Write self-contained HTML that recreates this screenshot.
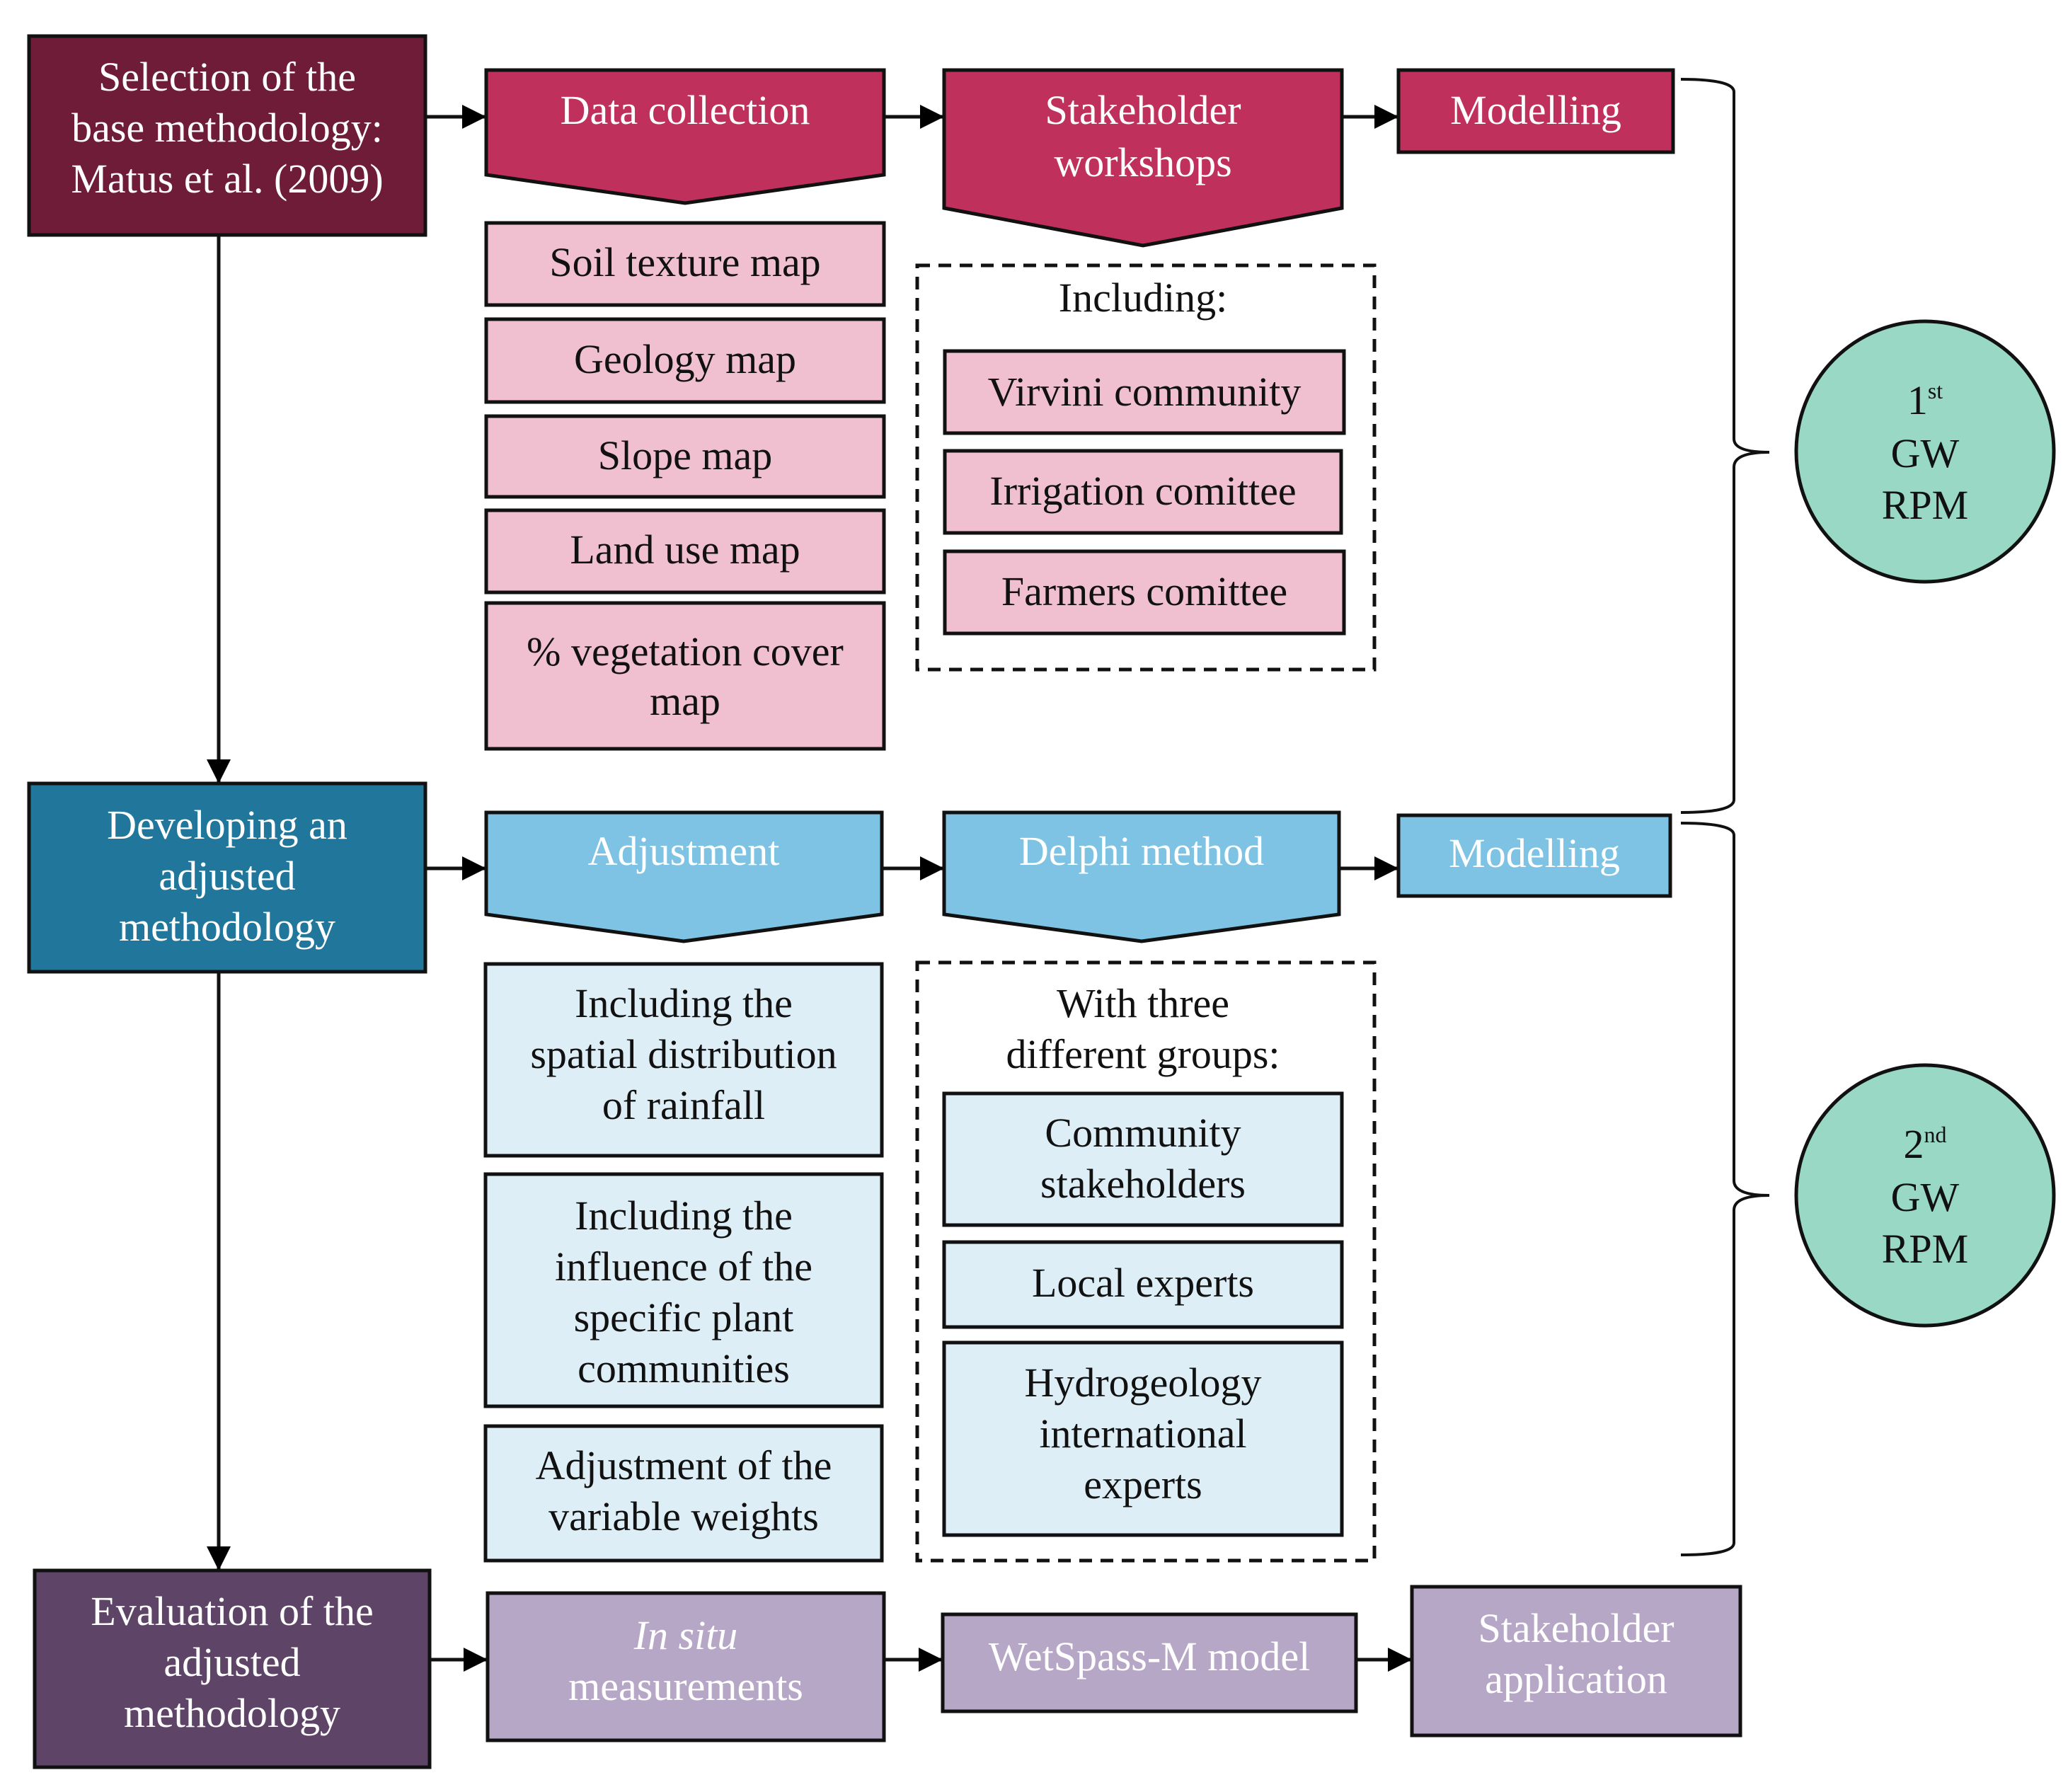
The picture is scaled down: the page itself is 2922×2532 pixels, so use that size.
<!DOCTYPE html>
<html><head><meta charset="utf-8"><style>
html,body{margin:0;padding:0;background:#fff;}
svg{display:block;}
text{font-family:"Liberation Serif",serif;font-size:58px;text-anchor:middle;}
.w{fill:#fff;} .k{fill:#111;}
</style></head><body>
<svg width="2922" height="2532" viewBox="0 0 2922 2532" xmlns="http://www.w3.org/2000/svg">
<defs>
<marker id="b" markerWidth="34" markerHeight="34" refX="32" refY="17" orient="auto" markerUnits="userSpaceOnUse" viewBox="0 0 34 34"><path d="M0,0 L34,17 L0,34z" fill="#000"/></marker></defs>
<g stroke="#111" stroke-width="5">
<line x1="309" y1="332" x2="309" y2="1105" marker-end="url(#b)"/>
<line x1="309" y1="1373" x2="309" y2="2217" marker-end="url(#b)"/>
<line x1="601" y1="165" x2="685" y2="165" marker-end="url(#b)"/>
<line x1="1249" y1="165" x2="1332" y2="165" marker-end="url(#b)"/>
<line x1="1896" y1="165" x2="1974" y2="165" marker-end="url(#b)"/>
<line x1="601" y1="1227" x2="685" y2="1227" marker-end="url(#b)"/>
<line x1="1246" y1="1227" x2="1332" y2="1227" marker-end="url(#b)"/>
<line x1="1892" y1="1227" x2="1974" y2="1227" marker-end="url(#b)"/>
<line x1="607" y1="2345" x2="687" y2="2345" marker-end="url(#b)"/>
<line x1="1249" y1="2345" x2="1330" y2="2345" marker-end="url(#b)"/>
<line x1="1916" y1="2345" x2="1993" y2="2345" marker-end="url(#b)"/>
<rect x="41" y="51" width="560" height="281" fill="#6e1c37"/>
<path d="M687,99 H1249 V247 L968,287 L687,247Z" fill="#c0305c"/>
<path d="M1334,99 H1896 V294 L1615,347 L1334,294Z" fill="#c0305c"/>
<rect x="1976" y="99" width="388" height="116" fill="#c0305c"/>
<g fill="#f0c0d0">
<rect x="687" y="315" width="562" height="116"/>
<rect x="687" y="451" width="562" height="117"/>
<rect x="687" y="588" width="562" height="114"/>
<rect x="687" y="721" width="562" height="116"/>
<rect x="687" y="852" width="562" height="206"/>
<rect x="1335" y="496" width="564" height="116"/>
<rect x="1335" y="637" width="560" height="116"/>
<rect x="1335" y="779" width="564" height="116"/>
</g>
<rect x="1296" y="375" width="646" height="571" fill="none" stroke-dasharray="18,12"/>
<rect x="41" y="1107" width="560" height="266" fill="#21769b"/>
<path d="M687,1148 H1246 V1292 L966,1330 L687,1292Z" fill="#7ec3e3"/>
<path d="M1334,1148 H1892 V1292 L1613,1330 L1334,1292Z" fill="#7ec3e3"/>
<rect x="1976" y="1152" width="384" height="114" fill="#7ec3e3"/>
<g fill="#ddeef7">
<rect x="686" y="1362" width="560" height="271"/>
<rect x="686" y="1659" width="560" height="328"/>
<rect x="686" y="2015" width="560" height="190"/>
<rect x="1334" y="1545" width="562" height="186"/>
<rect x="1334" y="1755" width="562" height="120"/>
<rect x="1334" y="1897" width="562" height="272"/>
</g>
<rect x="1296" y="1360" width="646" height="845" fill="none" stroke-dasharray="18,12"/>
<rect x="49" y="2219" width="558" height="278" fill="#5e4466"/>
<g fill="#b7a7c6">
<rect x="689" y="2251" width="560" height="208"/>
<rect x="1332" y="2281" width="584" height="137"/>
<rect x="1995" y="2242" width="464" height="210"/>
</g>
<path d="M2375,112 Q2450,112 2450,130 V620 Q2450,639 2500,639 Q2450,639 2450,660 V1130 Q2450,1148 2375,1148" fill="none" stroke-width="4"/>
<path d="M2375,1163 Q2450,1163 2450,1180 V1668 Q2450,1689 2500,1689 Q2450,1689 2450,1710 V2180 Q2450,2197 2375,2197" fill="none" stroke-width="4"/>
<ellipse cx="2720" cy="638" rx="182" ry="184" fill="#98d8c4"/>
<ellipse cx="2720" cy="1689" rx="182" ry="184" fill="#98d8c4"/>
</g>
<text class="w" x="321" y="128">Selection of the</text>
<text class="w" x="321" y="200">base methodology:</text>
<text class="w" x="321" y="272">Matus et al. (2009)</text>
<text class="w" x="968" y="175">Data collection</text>
<text class="w" x="1615" y="175">Stakeholder</text>
<text class="w" x="1615" y="249">workshops</text>
<text class="w" x="2170" y="175">Modelling</text>
<text class="k" x="968" y="390">Soil texture map</text>
<text class="k" x="968" y="527">Geology map</text>
<text class="k" x="968" y="663">Slope map</text>
<text class="k" x="968" y="796">Land use map</text>
<text class="k" x="968" y="940">% vegetation cover</text>
<text class="k" x="968" y="1010">map</text>
<text class="k" x="1615" y="440">Including:</text>
<text class="k" x="1617" y="573">Virvini community</text>
<text class="k" x="1615" y="713">Irrigation comittee</text>
<text class="k" x="1617" y="855">Farmers comittee</text>
<text class="w" x="321" y="1185">Developing an</text>
<text class="w" x="321" y="1257">adjusted</text>
<text class="w" x="321" y="1329">methodology</text>
<text class="w" x="966" y="1222">Adjustment</text>
<text class="w" x="1613" y="1222">Delphi method</text>
<text class="w" x="2168" y="1225">Modelling</text>
<text class="k" x="966" y="1437">Including the</text>
<text class="k" x="966" y="1509">spatial distribution</text>
<text class="k" x="966" y="1581">of rainfall</text>
<text class="k" x="966" y="1737">Including the</text>
<text class="k" x="966" y="1809">influence of the</text>
<text class="k" x="966" y="1881">specific plant</text>
<text class="k" x="966" y="1953">communities</text>
<text class="k" x="966" y="2090">Adjustment of the</text>
<text class="k" x="966" y="2162">variable weights</text>
<text class="k" x="1615" y="1437">With three</text>
<text class="k" x="1615" y="1509">different groups:</text>
<text class="k" x="1615" y="1620">Community</text>
<text class="k" x="1615" y="1692">stakeholders</text>
<text class="k" x="1615" y="1832">Local experts</text>
<text class="k" x="1615" y="1973">Hydrogeology</text>
<text class="k" x="1615" y="2045">international</text>
<text class="k" x="1615" y="2117">experts</text>
<text class="w" x="328" y="2296">Evaluation of the</text>
<text class="w" x="328" y="2368">adjusted</text>
<text class="w" x="328" y="2440">methodology</text>
<text class="w" x="969" y="2330" font-style="italic">In situ</text>
<text class="w" x="969" y="2402">measurements</text>
<text class="w" x="1624" y="2360">WetSpass-M model</text>
<text class="w" x="2227" y="2320">Stakeholder</text>
<text class="w" x="2227" y="2392">application</text>
<text class="k" x="2720" y="585">1<tspan font-size="32" dy="-22">st</tspan></text>
<text class="k" x="2720" y="660">GW</text>
<text class="k" x="2720" y="733">RPM</text>
<text class="k" x="2720" y="1636">2<tspan font-size="32" dy="-22">nd</tspan></text>
<text class="k" x="2720" y="1711">GW</text>
<text class="k" x="2720" y="1784">RPM</text>
</svg>
</body></html>
